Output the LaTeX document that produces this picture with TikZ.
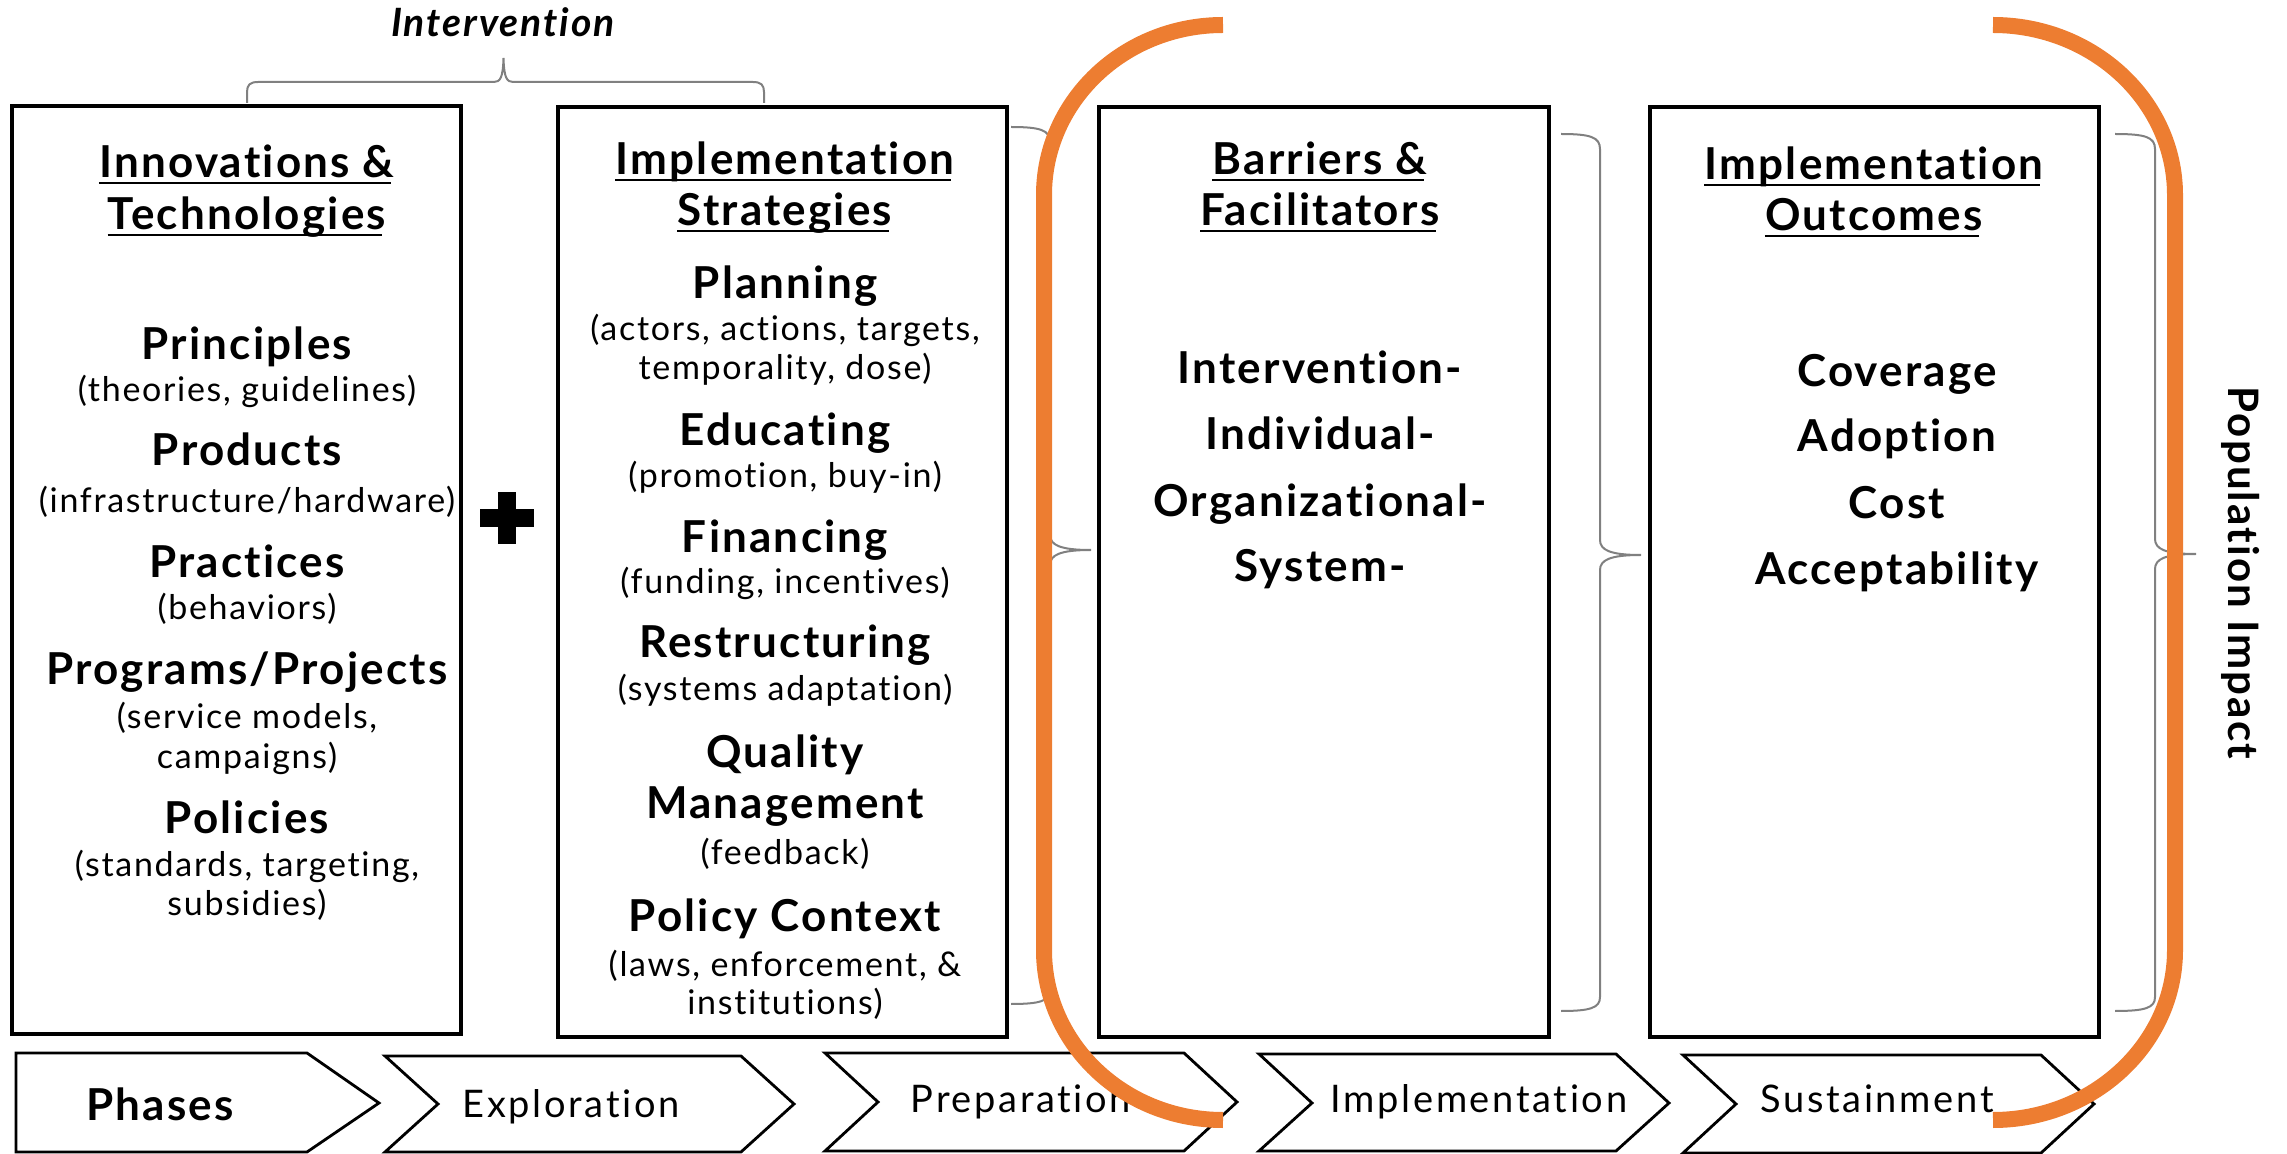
\documentclass[tikz,border=0pt]{standalone}
\usepackage{fontspec}
\setmainfont{Lato}
\newfontfamily\subfont[LetterSpace=5,Ligatures=CommonOff]{Lato}
\newfontfamily\ttlfont[LetterSpace=5,Ligatures=CommonOff]{Lato}
\newfontfamily\phfont[LetterSpace=7,Ligatures=CommonOff]{Lato}
\definecolor{orng}{HTML}{ED7D31}
\definecolor{brgray}{HTML}{808080}
\begin{document}
\begin{tikzpicture}[x=0.5pt,y=-0.5pt,
  box/.style={draw=black,line width=1.8pt},
  hd/.style={inner sep=0pt,anchor=base,font=\fontsize{22}{26}\ttlfont\bfseries},
  ttl/.style={inner sep=0pt,anchor=base,font=\fontsize{22}{26}\ttlfont\bfseries},
  sub/.style={inner sep=0pt,anchor=base,font=\fontsize{17}{20}\subfont},
  ph/.style={inner sep=0pt,anchor=base,font=\fontsize{19}{23}\phfont},
  ul/.style={line width=1.3pt,black},
  brace/.style={draw=brgray,line width=1pt},
  chev/.style={draw=black,line width=1.4pt},
  orangebr/.style={draw=orng,line width=8pt}]
\useasboundingbox (0,0) rectangle (2287,1154);

% boxes
\draw[box] (12,106) rectangle (461,1034);
\draw[box] (558,107) rectangle (1007,1037);
\draw[box] (1099,107) rectangle (1549,1037);
\draw[box] (1650,107) rectangle (2099,1037);

% plus sign
\fill (480,509) rectangle (534,527);
\fill (498,492) rectangle (516,544);

% top brace
\node[inner sep=0pt,anchor=base,font=\fontsize{19.5}{23}\ttlfont\bfseries\itshape] (intv) at (503,37) {Intervention};
\draw[brace] (247,103) -- (247,92) .. controls (247,85) and (250,82) .. (258,82) -- (494,82)
  .. controls (500,82) and (503,78) .. (503.5,58) .. controls (504,78) and (507,82) .. (513,82)
  -- (753,82) .. controls (761,82) and (764,85) .. (764,92) -- (764,103);

% right braces
\draw[brace] (1011,127) .. controls (1040,127) and (1050,130) .. (1050,142) -- (1050,535)
  .. controls (1050,545) and (1060,550) .. (1091,550) .. controls (1060,550) and (1050,555) .. (1050,565)
  -- (1050,990) .. controls (1050,1001) and (1040,1004) .. (1011,1004);
\draw[brace] (1561,134) .. controls (1590,134) and (1600,137) .. (1600,149) -- (1600,540)
  .. controls (1600,550) and (1610,555) .. (1641,555) .. controls (1610,555) and (1600,560) .. (1600,570)
  -- (1600,997) .. controls (1600,1008) and (1590,1011) .. (1561,1011);
\draw[brace] (2115,134) .. controls (2145,134) and (2155,137) .. (2155,149) -- (2155,539)
  .. controls (2155,549) and (2165,554) .. (2196,554) .. controls (2165,554) and (2155,559) .. (2155,569)
  -- (2155,997) .. controls (2155,1008) and (2145,1011) .. (2115,1011);

% box 1 text
\node[hd] (h1a) at (247,178) {Innovations \&};
\node[hd] (h1b) at (247,230) {Technologies};
\node[ttl] (p1) at (247,360) {Principles};
\node[sub] (p1s) at (247,402) {(theories, guidelines)};
\node[ttl] (p2) at (247,466) {Products};
\node[sub] (p2s) at (247,513) {(infrastructure/hardware)};
\node[ttl] (p3) at (247,578) {Practices};
\node[sub] (p3s) at (247,620) {(behaviors)};
\node[ttl] (p4) at (247,685) {Programs/Projects};
\node[sub] (p4s) at (247,728) {(service models,};
\node[sub] (p4t) at (247,769) {campaigns)};
\node[ttl] (p5) at (247,833) {Policies};
\node[sub] (p5s) at (247,876) {(standards, targeting,};
\node[sub] (p5t) at (247,915) {subsidies)};

% box 2 text
\node[hd] (h2a) at (785,175) {Implementation};
\node[hd] (h2b) at (785,226) {Strategies};
\node[ttl] (s1) at (785,299) {Planning};
\node[sub] (s1s) at (785,341) {(actors, actions, targets,};
\node[sub] (s1t) at (785,380) {temporality, dose)};
\node[ttl] (s2) at (785,446) {Educating};
\node[sub] (s2s) at (785,488) {(promotion, buy-in)};
\node[ttl] (s3) at (785,553) {Financing};
\node[sub] (s3s) at (785,594) {(funding, incentives)};
\node[ttl] (s4) at (785,658) {Restructuring};
\node[sub] (s4s) at (785,701) {(systems adaptation)};
\node[ttl] (s5) at (785,767) {Quality};
\node[ttl] (s5b) at (785,818) {Management};
\node[sub] (s5s) at (785,864) {(feedback)};
\node[ttl] (s6) at (785,931) {Policy Context};
\node[sub] (s6s) at (785,976) {(laws, enforcement, \&};
\node[sub] (s6t) at (785,1014) {institutions)};

% box 3 text
\node[hd] (h3a) at (1320,175) {Barriers \&};
\node[hd] (h3b) at (1320,226) {Facilitators};
\node[ttl] (b1) at (1320,384) {Intervention-};
\node[ttl] (b2) at (1320,450) {Individual-};
\node[ttl] (b3) at (1320,517) {Organizational-};
\node[ttl] (b4) at (1320,582) {System-};

% box 4 text
\node[hd] (h4a) at (1874,180) {Implementation};
\node[hd] (h4b) at (1874,231) {Outcomes};
\node[ttl] (o1) at (1897,387) {Coverage};
\node[ttl] (o2) at (1897,452) {Adoption};
\node[ttl] (o3) at (1897,519) {Cost};
\node[ttl] (o4) at (1897,585) {Acceptability};

% underlines
\foreach \n in {h1a,h1b,h2a,h2b,h3a,h3b,h4a,h4b}
  \draw[ul] ([yshift=-2.6pt]\n.base west) -- ([yshift=-2.6pt,xshift=-2pt]\n.base east);

% population impact
\node[inner sep=0pt,rotate=-90,font=\fontsize{21}{25}\ttlfont\bfseries] (pop) at (2241,573) {Population Impact};

% phases
\draw[chev] (16,1053) -- (307,1053) -- (379,1103) -- (307,1152) -- (16,1152) -- cycle;
\draw[chev] (385,1056) -- (741,1056) -- (794,1104) -- (741,1152) -- (385,1152) -- (438,1104) -- cycle;
\draw[chev] (825,1053) -- (1184,1053) -- (1237,1102) -- (1184,1151) -- (825,1151) -- (878,1102) -- cycle;
\draw[chev] (1259,1054) -- (1616,1054) -- (1669,1103) -- (1616,1151) -- (1259,1151) -- (1312,1103) -- cycle;
\draw[chev] (1683,1055) -- (2041,1055) -- (2094,1104) -- (2041,1153) -- (1683,1153) -- (1736,1104) -- cycle;
\node[ttl] (ph0) at (160,1120) {Phases};
\node[ph] (ph1) at (571,1117) {Exploration};
\node[ph] (ph2) at (1021,1112) {Preparation};
\node[ph] (ph3) at (1479,1112) {Implementation};
\node[ph] (ph4) at (1877,1112) {Sustainment};

% orange brackets
\draw[orangebr] (1223,25) .. controls (1124,25) and (1044,101) .. (1044,195) -- (1044,950)
  .. controls (1044,1044) and (1124,1120) .. (1223,1120);
\draw[orangebr] (1993,25) .. controls (2093,25) and (2175,101) .. (2175,195) -- (2175,950)
  .. controls (2175,1044) and (2093,1120) .. (1993,1120);
\end{tikzpicture}
\end{document}
